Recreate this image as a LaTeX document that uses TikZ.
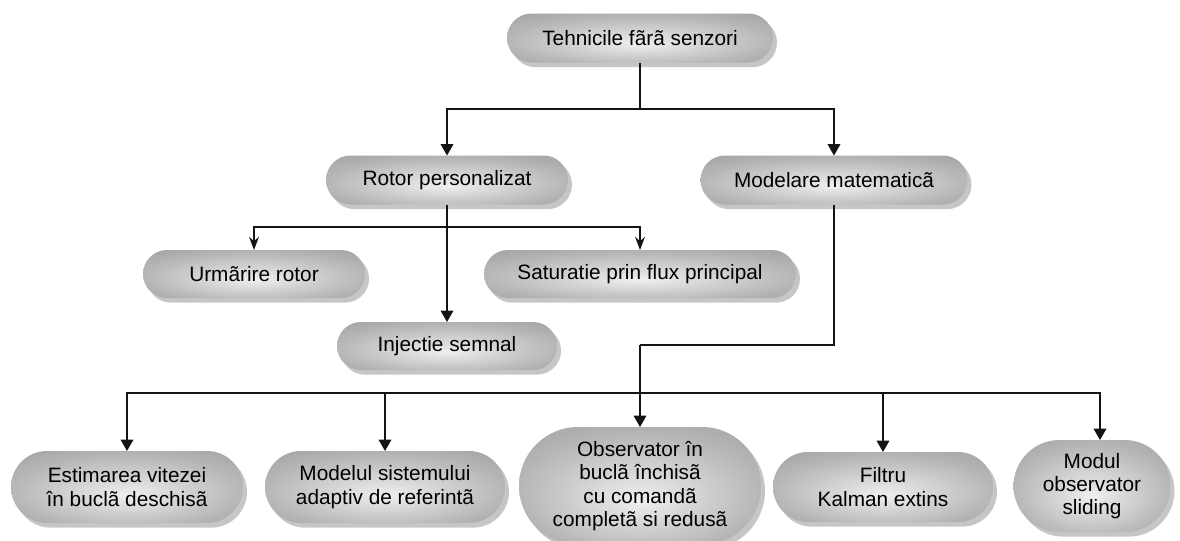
\documentclass[tikz,border=0pt]{standalone}
\usepackage{fontspec}
\setmainfont{Liberation Sans}
\usetikzlibrary{shapes.misc,shadows,arrows.meta}
\definecolor{pc}{RGB}{240,240,240}
\definecolor{pa}{RGB}{225,225,225}
\definecolor{pm}{RGB}{180,180,180}
\definecolor{pe}{RGB}{152,152,152}
\definecolor{shd}{RGB}{198,198,198}
\definecolor{ln}{RGB}{20,20,20}
\pgfdeclareradialshading{pillshade}{\pgfpoint{0bp}{-6bp}}{color(0bp)=(pc); color(6bp)=(pa); color(26bp)=(pm); color(42bp)=(pe); color(50bp)=(pe)}
\begin{document}
\begin{tikzpicture}[x=0.75pt,y=-0.75pt,
  pill/.style={rounded rectangle, inner sep=0pt, outer sep=0pt, shade, shading=pillshade,
    drop shadow={shadow xshift=3pt, shadow yshift=-3.5pt, fill=shd, opacity=1},
    align=center, font=\fontsize{15.6pt}{17.5pt}\selectfont},
  conn/.style={draw=ln, line width=0.8pt},
  arr/.style={conn, -{Triangle[length=8.5pt,width=9.5pt]}},
  barb/.style={conn, -{Stealth[length=10pt,width=7.5pt,inset=3.5pt]}}]
\useasboundingbox (0,0) rectangle (1180,540);
\node[pill, minimum width=199.5pt, minimum height=36.75pt] (top) at (640,38) {Tehnicile fãrã senzori};
\node[pill, minimum width=181.5pt, minimum height=36.75pt] (rot) at (447,180) {Rotor personalizat};
\node[pill, minimum width=200.25pt, minimum height=36.75pt] (mm) at (834,180) {Modelare matematicã};
\node[pill, minimum width=166.5pt, minimum height=36pt] (urm) at (254,274) {Urmãrire rotor};
\node[pill, minimum width=234pt, minimum height=36pt] (sat) at (640,274) {Saturatie prin flux principal};
\node[pill, minimum width=165pt, minimum height=36pt] (inj) at (447,346) {Injectie semnal};
\node[pill, minimum width=174pt, minimum height=54pt] (est) at (127,487) {Estimarea vitezei\\în buclã deschisã};
\node[pill, minimum width=180pt, minimum height=54pt] (mdl) at (385,487) {Modelul sistemului\\adaptiv de referintã};
\node[pill, minimum width=181.5pt, minimum height=88.5pt] (obs) at (640,486) {Observator în\\buclã închisã\\cu comandã\\completã si redusã};
\node[pill, minimum width=165pt, minimum height=52.5pt] (fil) at (883,487) {Filtru\\Kalman extins};
\node[pill, minimum width=117.75pt, minimum height=69pt] (mod) at (1092,486) {Modul\\observator\\sliding};

\coordinate (t1) at (640,109);
\draw[conn] (top.south) -- (t1);
\draw[arr] (t1) -| (rot.north);
\draw[arr] (t1) -| (mm.north);

\coordinate (r1) at (447,227);
\draw[arr] (rot.south) -- (inj.north);
\draw[barb] (r1) -| (urm.north);
\draw[barb] (r1) -| (sat.north);

\coordinate (m1) at (834,345);
\coordinate (m2) at (640,345);
\coordinate (b) at (640,393);
\draw[conn] (mm.south) -- (m1) -- (m2);
\draw[arr] (m2) -- (obs.north);
\draw[arr] (b) -| (est.north);
\draw[arr] (b) -| (mdl.north);
\draw[arr] (b) -| (fil.north);
\draw[arr] (b) -| ([xshift=6pt]mod.north);
\end{tikzpicture}
\end{document}
